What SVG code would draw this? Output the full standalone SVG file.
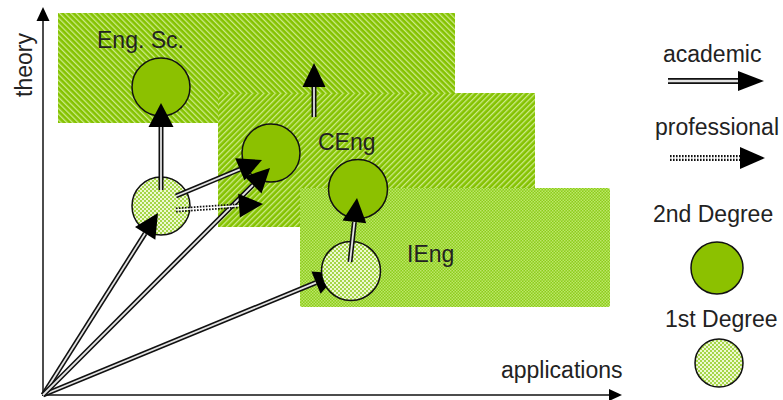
<svg xmlns="http://www.w3.org/2000/svg" width="783" height="400" viewBox="0 0 783 400">
<style>
  text { font-family: "Liberation Sans", Arial, sans-serif; font-size: 23px; fill: #222; }
  .axis { stroke: #111; stroke-width: 1.5; fill: none; }
  .dbl-o { stroke: #111; stroke-width: 5; fill: none; }
  .dbl-i { stroke: #e4e4e4; stroke-width: 1.8; fill: none; }
  .head { fill: #000; }
  .deg2 { fill: #8cc100; stroke: #111; stroke-width: 1.5; }
  .deg1 { fill: url(#check1); stroke: #111; stroke-width: 1.5; }
</style>
<defs>
  <pattern id="hatchA" width="4" height="4" patternUnits="userSpaceOnUse" patternTransform="rotate(-45)">
    <rect width="4" height="4" fill="#84c200"/>
    <rect width="1.3" height="4" fill="#cdeb8a"/>
  </pattern>
  <pattern id="hatchB" width="4" height="4" patternUnits="userSpaceOnUse" patternTransform="rotate(45)">
    <rect width="4" height="4" fill="#84c200"/>
    <rect width="1.3" height="4" fill="#cdeb8a"/>
  </pattern>
  <pattern id="check3" width="3" height="3" patternUnits="userSpaceOnUse">
    <rect width="3" height="3" fill="#8ccd1a"/>
    <rect width="1.5" height="1.5" fill="#bde66a"/>
    <rect x="1.5" y="1.5" width="1.5" height="1.5" fill="#bde66a"/>
  </pattern>
  <pattern id="check1" width="4" height="4" patternUnits="userSpaceOnUse">
    <rect width="4" height="4" fill="#eef8d4"/>
    <rect width="2" height="2" fill="#a6d648"/>
    <rect x="2" y="2" width="2" height="2" fill="#a6d648"/>
  </pattern>
  <clipPath id="outIEng1">
    <path clip-rule="evenodd" d="M0 0H783V400H0Z M380.5 271 A29.5 29.5 0 1 0 321.5 271 A29.5 29.5 0 1 0 380.5 271Z"/>
  </clipPath>
</defs>

<g id="areas">
  <rect id="area-engsc" x="58" y="13" width="397" height="110" fill="url(#hatchA)"/>
  <rect id="area-ceng" x="218" y="93" width="317" height="134" fill="url(#hatchB)"/>
  <rect id="area-ieng" x="300" y="188" width="310" height="119" rx="2" fill="url(#check3)"/>
</g>

<g id="axes">
  <line class="axis" x1="43" y1="396" x2="43" y2="18"/>
  <polygon class="head" points="43,7 49.5,21 36.5,21"/>
  <line class="axis" x1="42" y1="395" x2="612" y2="395"/>
  <polygon class="head" points="622,395 609,389 609,401"/>
  <text transform="translate(32,97) rotate(-90)">theory</text>
  <text x="501" y="378">applications</text>
</g>

<g id="node-engsc">
  <circle class="deg2" cx="161" cy="87" r="29"/>
  <text x="97" y="48">Eng. Sc.</text>
</g>
<g id="node-ceng">
  <circle class="deg2" cx="271" cy="153" r="29"/>
  <text x="318" y="150">CEng</text>
</g>
<g id="node-ieng2">
  <circle class="deg2" cx="358" cy="189" r="29.5"/>
</g>
<g id="node-ieng1">
  <circle class="deg1" cx="351" cy="271" r="29.5"/>
  <text x="407" y="262">IEng</text>
</g>
<g id="node-deg1">
  <circle class="deg1" cx="161" cy="206" r="29"/>
</g>

<g id="connectors">
  <g clip-path="url(#outIEng1)">
    <path class="dbl-o" d="M43,395 L316,282.6"/>
    <path class="dbl-i" d="M43,395 L316,282.6"/>
    <polygon class="head" points="338.2,273.5 320.6,293.7 311.4,271.5"/>
  </g>
  <path class="dbl-o" d="M43,395 L145.2,233.3"/>
  <path class="dbl-i" d="M43,395 L145.2,233.3"/>
  <polygon class="head" points="158,213 155.3,239.7 135,226.9"/>
  <path class="dbl-o" d="M43,395 L253,185"/>
  <path class="dbl-i" d="M43,395 L253,185"/>
  <polygon class="head" points="270,168 261.5,193.5 244.5,176.5"/>
  <path class="dbl-o" d="M176,196 L239.9,169.3"/>
  <path class="dbl-i" d="M176,196 L239.9,169.3"/>
  <polygon class="head" points="262,160 244.5,180.4 235.2,158.2"/>
  <path class="dbl-o" d="M161,190 L161,127"/>
  <path class="dbl-i" d="M161,190 L161,127"/>
  <polygon class="head" points="161,103 173.5,127 148.5,127"/>
  <path d="M176,210 L239,205.7" stroke="#111" stroke-width="5" stroke-dasharray="1.6 1.4" fill="none"/>
  <path d="M176,210 L239,205.7" stroke="#fff" stroke-width="1.4" fill="none"/>
  <polygon class="head" points="263,204 239.9,217.6 238.2,193.7"/>
  <path class="dbl-o" d="M350,262 L354.4,221.9"/>
  <path class="dbl-i" d="M350,262 L354.4,221.9"/>
  <polygon class="head" points="357,198 366.3,223.2 342.5,220.5"/>
  <path class="dbl-o" d="M314,117 L314,87"/>
  <path class="dbl-i" d="M314,117 L314,87"/>
  <polygon class="head" points="314,63 325.5,87 302.5,87"/>
</g>

<g id="legend">
  <g id="legend-academic">
    <text x="663" y="62">academic</text>
    <path d="M668,81 L740,81" stroke="#111" stroke-width="6" fill="none"/>
    <path d="M668,81 L740,81" stroke="#e4e4e4" stroke-width="2.4" fill="none"/>
    <polygon class="head" points="764,81 738,71 738,91"/>
  </g>
  <g id="legend-professional">
    <text x="655" y="135">professional</text>
    <path d="M670,158 L742,158" stroke="#111" stroke-width="6" stroke-dasharray="1.6 1.4" fill="none"/>
    <path d="M670,158 L742,158" stroke="#fff" stroke-width="1.6" fill="none"/>
    <polygon class="head" points="765,158 740,147 740,169"/>
  </g>
  <g id="legend-deg2">
    <text x="653" y="222">2nd Degree</text>
    <circle class="deg2" cx="717" cy="268" r="26"/>
  </g>
  <g id="legend-deg1">
    <text x="665" y="327">1st Degree</text>
    <circle class="deg1" cx="719" cy="363" r="24"/>
  </g>
</g>
</svg>
